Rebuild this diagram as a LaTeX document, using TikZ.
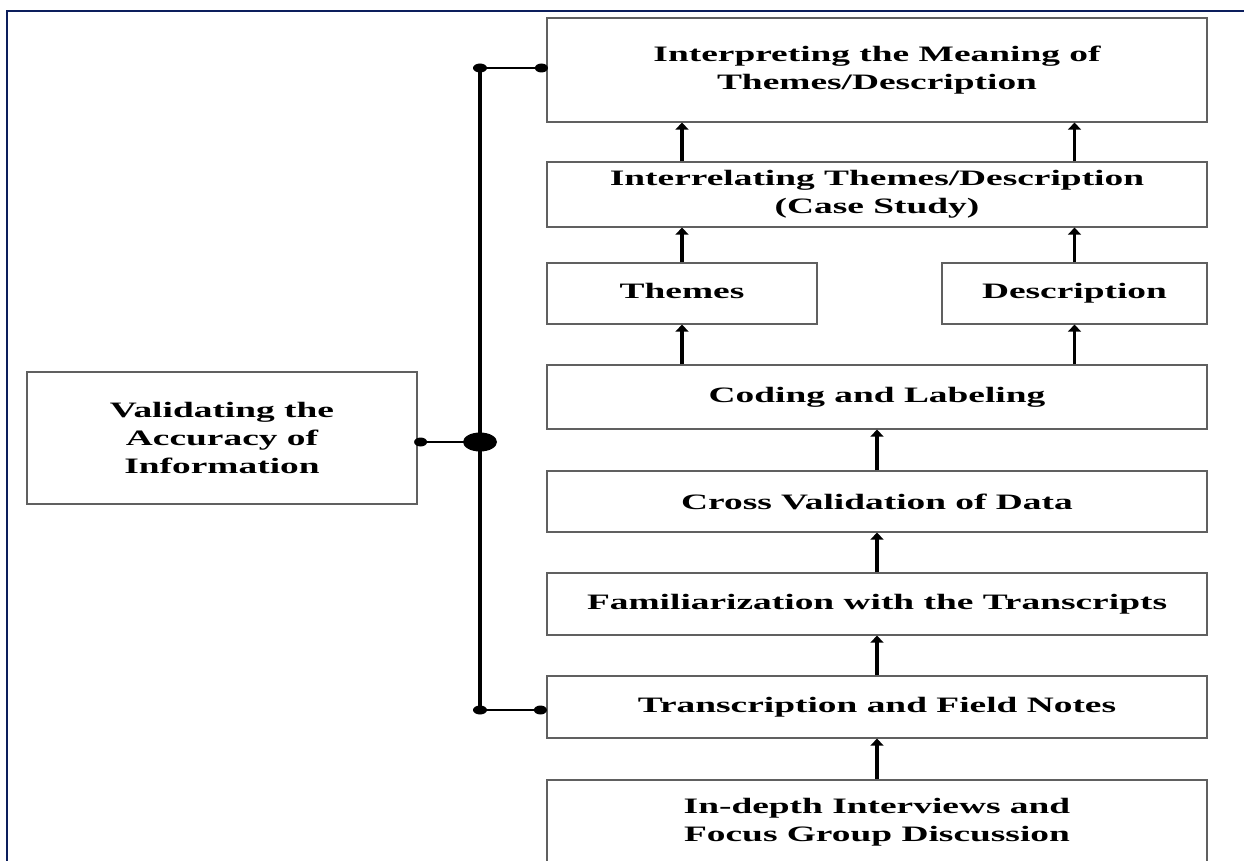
\documentclass[tikz,border=0pt]{standalone}
\usepackage{fontspec}
\setmainfont{Liberation Serif}[FakeStretch=1.7]
\usepackage{tikz}
\usetikzlibrary{arrows.meta, calc, positioning}

\definecolor{framenavy}{RGB}{12,30,92}

\tikzset{
    stagebox/.style={draw=gray!75!black, line width=1.2pt, fill=white, align=center,
        font=\fontsize{22}{28}\selectfont\bfseries, inner sep=0pt},
    uparrow/.style={line width=3.2pt, -{Triangle[length=7pt,width=13pt]}},
}

\begin{document}
\begin{tikzpicture}[x=1pt, y=-1pt]
            \useasboundingbox (0,0) rectangle (1244,861);
            \clip (0,0) rectangle (1244,861);
            \draw[framenavy, line width=2.4pt] (7,870)--(7,11)--(1250,11);

            % stages of the analysis
            \node[stagebox, minimum width=660pt, minimum height=104pt] (interp) at (877,70) {Interpreting the Meaning of\\Themes/Description};
            \node[stagebox, minimum width=660pt, minimum height=65pt] (interrel) at (877,194.5) {Interrelating Themes/Description\\(Case Study)};
            \node[stagebox, minimum width=270pt, minimum height=61pt, text height=15pt, text depth=5pt] (themes) at (682,293.5) {Themes};
            \node[stagebox, minimum width=265pt, minimum height=61pt, text height=15pt, text depth=5pt] (descr) at (1074.5,293.5) {Description};
            \node[stagebox, minimum width=660pt, minimum height=64pt] (coding) at (877,397) {Coding and Labeling};
            \node[stagebox, minimum width=660pt, minimum height=61pt] (cross) at (877,501.5) {Cross Validation of Data};
            \node[stagebox, minimum width=660pt, minimum height=62pt] (famil) at (877,604) {Familiarization with the Transcripts};
            \node[stagebox, minimum width=660pt, minimum height=62pt] (transc) at (877,707) {Transcription and Field Notes};
            \node[stagebox, minimum width=660pt, minimum height=84pt] (indepth) at (877,822) {In-depth Interviews and\\Focus Group Discussion};
            \node[stagebox, minimum width=390pt, minimum height=132pt] (valid) at (222,438) {Validating the\\Accuracy of\\Information};

            % upward arrows
            \foreach \a/\b in {indepth/transc, transc/famil, famil/cross, cross/coding} {
                \draw[uparrow] (\a.north) -- (\b.south);
            }
            \foreach \c in {themes, descr} {
                \draw[uparrow] (coding.north -| \c) -- (\c.south);
                \draw[uparrow] (\c.north) -- (interrel.south -| \c);
                \draw[uparrow] (interrel.north -| \c) -- (interp.south -| \c);
            }

            % validation spine
            \coordinate (spinetop) at (480,68);
            \coordinate (spinemid) at (480,442);
            \coordinate (spinebot) at (480,710);
            \draw[line width=4pt] (spinetop) -- (spinebot);
            \draw[line width=2.2pt] (spinetop) -- (spinetop -| interp.west);
            \draw[line width=2.2pt] (spinebot) -- (spinebot -| transc.west);
            \draw[line width=2.2pt] (spinemid) -- (spinemid -| valid.east);
            \foreach \p in {spinetop, spinebot} {
                \fill (\p) ellipse (7pt and 4.5pt);
            }
            \fill (spinetop -| interp.west) ++(-5,0) ellipse (6.5pt and 4.5pt);
            \fill (spinebot -| transc.west) ++(-6,0) ellipse (6.5pt and 4.5pt);
            \fill (spinemid -| valid.east) ++(3,0) ellipse (6.5pt and 4.5pt);
            \fill (spinemid) ellipse (17pt and 9.5pt);
\end{tikzpicture}
\end{document}
